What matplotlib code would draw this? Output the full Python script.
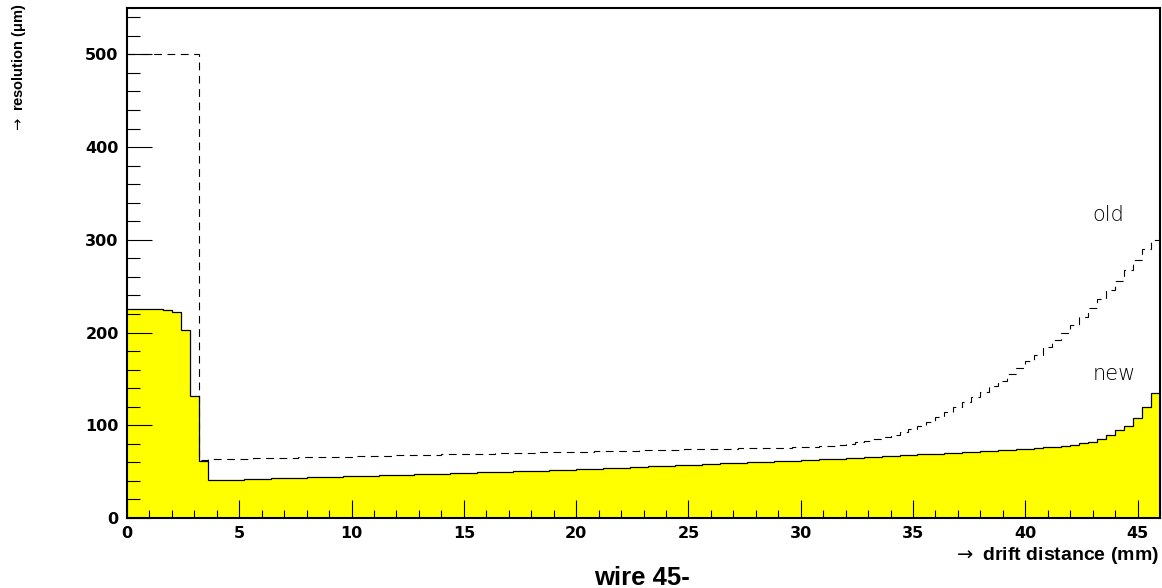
import numpy as np
import matplotlib
matplotlib.use("Agg")
import matplotlib.pyplot as plt
from matplotlib.ticker import MultipleLocator

# ---- data (resolution per 0.4 mm drift-distance bin, 0 .. 46 mm) ----
x_min, x_max = 0.0, 46.0

new_res = [
    225, 225, 225, 225, 224, 222, 203, 132, 62,
    40.7, 41.0, 41.3, 41.5, 41.8, 42.1, 42.4, 42.6, 42.9, 43.2,
    43.5, 43.7, 44.0, 44.3, 44.6, 44.8, 45.1, 45.4, 45.7, 45.9,
    46.2, 46.5, 46.8, 47.0, 47.3, 47.6, 47.9, 48.2, 48.5, 48.8,
    49.1, 49.4, 49.7, 50.0, 50.3, 50.6, 50.9, 51.2, 51.5, 51.8,
    52.1, 52.4, 52.8, 53.2, 53.6, 54.0, 54.4, 54.8, 55.2, 55.6,
    56.0, 56.4, 56.8, 57.2, 57.6, 58.0, 58.4, 58.8, 59.2, 59.6,
    60.0, 60.4, 60.8, 61.2, 61.6, 62.0, 62.4, 62.8, 63.2, 63.6,
    64.0, 64.5, 65.0, 65.5, 66.0, 66.5, 67.0, 67.5, 68.0, 68.5,
    69.0, 69.5, 70.0, 70.5, 71.0, 71.5, 72.0, 72.5, 73.0, 73.5, 74.0,
    74.8, 75.5, 76.3, 77.0, 78.0, 79.0, 80.5, 82.4, 85.0, 89.5,
    94.5, 99.5, 107.5, 119.5, 135.0,
]

old_res = [
    500, 500, 500, 500, 500, 500, 500, 500, 63,
    63.3, 63.5, 63.7, 63.9, 64.1, 64.3, 64.5, 64.7, 64.9, 65.1,
    65.3, 65.5, 65.7, 65.9, 66.1, 66.3, 66.5, 66.7, 66.9, 67.1,
    67.3, 67.5, 67.7, 67.9, 68.1, 68.3, 68.5, 68.7, 68.9, 69.1,
    69.3, 69.5, 69.7, 69.9, 70.1, 70.3, 70.5, 70.7, 70.9, 71.1,
    71.3, 71.5, 71.7, 71.9, 72.1, 72.3, 72.5, 72.7, 72.9, 73.1,
    73.3, 73.5, 73.7, 73.9, 74.1, 74.3, 74.5, 74.7, 74.9, 75.1,
    75.3, 75.5, 75.7, 75.9, 76.0, 76.1,
    76.3, 76.8, 77.3, 78.0, 78.8, 79.8, 81.5, 83.2, 85.0, 87.0,
    89.6, 93.0, 96.0, 99.5, 103.5, 108.7, 114, 120, 125, 130,
    136, 142, 148, 155, 162, 169, 176, 184, 192, 200,
    208, 217, 226, 236, 246, 256, 267, 278, 290, 300,
]

x_ticks = [0, 5, 10, 15, 20, 25, 30, 35, 40, 45]
y_ticks = [0, 100, 200, 300, 400, 500]

# ---- figure ----
W, H = 1162, 588
fig = plt.figure(figsize=(W / 100, H / 100), dpi=100)
ax = fig.add_axes([127 / W, 1 - 518 / H, (1160 - 127) / W, (518 - 8) / H])

edges = np.linspace(x_min, x_max, len(new_res) + 1)

ax.stairs(new_res, edges, fill=True, color="#ffff00", baseline=0, zorder=1)
ax.stairs(new_res, edges, baseline=None, color="black", lw=0.9, zorder=2)
ax.stairs(old_res, edges, baseline=None, color="black", lw=0.8,
          linestyle=(0, (7, 5)), zorder=3)

ax.set_xlim(x_min, x_max)
ax.set_ylim(0, 550)

ax.set_xticks(x_ticks)
ax.set_yticks(y_ticks)
ax.xaxis.set_minor_locator(MultipleLocator(1))
ax.yaxis.set_minor_locator(MultipleLocator(20))

ax.tick_params(axis="x", which="major", direction="in", length=13, width=0.8,
               pad=6, top=False)
ax.tick_params(axis="x", which="minor", direction="in", length=6, width=0.8,
               top=False)
ax.tick_params(axis="y", which="major", direction="in", length=18, width=0.8,
               pad=6, right=False)
ax.tick_params(axis="y", which="minor", direction="in", length=9.5, width=0.8,
               right=False)

for lab in ax.get_xticklabels() + ax.get_yticklabels():
    lab.set_fontfamily("DejaVu Sans")
    lab.set_fontweight("bold")
    lab.set_fontsize(11.5)

for sp in ax.spines.values():
    sp.set_linewidth(1.5)
    sp.set_zorder(5)

# curve labels
ax.text(43.0, 320, "old", fontsize=15, family="DejaVu Sans", fontweight=200,
        ha="left", va="baseline")
ax.text(43.0, 149, "new", fontsize=15, family="DejaVu Sans", fontweight=200,
        ha="left", va="baseline")

# axis titles
fig.text(1159 / W, 1 - 555 / H, r"$\rightarrow$ drift distance (mm)", ha="right",
         va="center", fontsize=14, fontweight="bold",
         family=["Liberation Sans", "DejaVu Sans"])
fig.text(19 / W, 1 - 3 / H, "$\\rightarrow$ resolution (\u03bcm)", rotation=90,
         ha="center", va="top", fontsize=10.5, fontweight="bold",
         family=["Liberation Sans", "DejaVu Sans"])
fig.text(642 / W, 1 - 578 / H, "wire 45-", ha="center", va="center",
         fontsize=18.5, fontweight="bold",
         family=["Liberation Sans", "DejaVu Sans"])

fig.savefig("out.png", dpi=100)
